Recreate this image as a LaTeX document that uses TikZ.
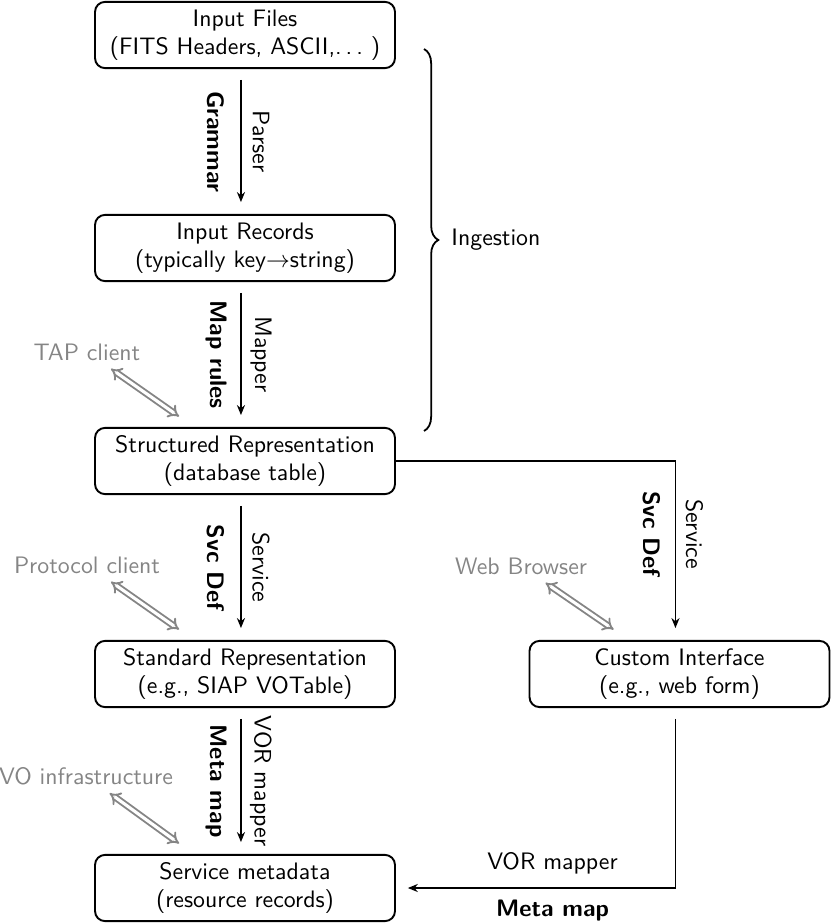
\documentclass[tikz,border=0pt]{standalone}
\usetikzlibrary{arrows.meta,decorations.pathreplacing,calc}
\newcommand{\spdots}{.\kern\fontdimen3\font.\kern\fontdimen3\font.\kern\fontdimen3\font}
\begin{document}
\begin{tikzpicture}[x=0.42pt,y=-0.42pt,
  font=\sffamily,
  box/.style={draw, line width=0.8pt, rounded corners=4.2pt, minimum width=126pt, minimum height=27.8pt, align=center, inner sep=2pt},
  tip/.style={-{Stealth[length=4.2pt,width=3.4pt]}},
  flow/.style={line width=0.6pt, tip, shorten <=4.5pt, shorten >=5pt},
  blab/.style={font=\sffamily\bfseries, rotate=-90, inner sep=0pt},
  rlab/.style={rotate=-90, inner sep=0pt},
  client/.style={text=black!48},
  dbl/.style={draw=black!48, double=white, double distance=1.3pt, line width=0.8pt, {Implies}-{Implies}}
]
\useasboundingbox (0,0) rectangle (831,923);

\node[box] (files) at (245,35) {Input Files\\(FITS Headers, ASCII,\spdots\,)};
\node[box] (records) at (245,248) {Input Records\\(typically key$\to$string)};
\node[box] (struct) at (245,461) {Structured Representation\\(database table)};
\node[box] (std) at (245,674) {Standard Representation\\(e.g., SIAP VOTable)};
\node[box] (meta) at (245,888) {Service metadata\\(resource records)};
\node[box] (custom) at (679.5,674) {Custom Interface\\(e.g., web form)};

% left chain
\draw[flow] ([xshift=-1.7pt]files.south) -- coordinate[midway] (m1) ([xshift=-1.7pt]records.north);
\draw[flow] ([xshift=-1.7pt]records.south) -- coordinate[midway] (m2) ([xshift=-1.7pt]struct.north);
\draw[flow] ([xshift=-1.7pt]struct.south) -- coordinate[midway] (m3) ([xshift=-1.7pt]std.north);
\draw[flow] ([xshift=-1.7pt]std.south) -- coordinate[midway] (m4) ([xshift=-1.7pt]meta.north);
\node[blab] (g1) at ([xshift=-10.4pt]m1) {Grammar};
\node[rlab] (p1) at ([xshift=8.4pt]m1) {Parser};
\node[blab] (g2) at ([xshift=-10.4pt]m2) {Map rules};
\node[rlab] (p2) at ([xshift=8.4pt]m2) {Mapper};
\node[blab] (g3) at ([xshift=-10.4pt]m3) {Svc Def};
\node[rlab] (p3) at ([xshift=8.4pt]m3) {Service};
\node[blab] (g4) at ([xshift=-10.4pt]m4) {Meta map};
\node[rlab] (p4) at ([xshift=8.4pt]m4) {VOR mapper};

% right branch
\coordinate (rc1) at ([xshift=-1.7pt]custom.north |- struct.east);
\draw[line width=0.6pt, tip, shorten >=5pt] (struct.east) -- (rc1) -- ([xshift=-1.7pt]custom.north);
\node[blab] (g5) at ($(rc1)+(-24,73)$) {Svc Def};
\node[rlab] (p5) at ($(rc1)+(19,73)$) {Service};
\coordinate (rc2) at ([xshift=-1.7pt]custom.south |- meta.east);
\draw[line width=0.6pt, tip, shorten >=5pt] ([xshift=-1.7pt,yshift=-4.5pt]custom.south) -- (rc2) -- (meta.east);
\node (vorlab) at ($(rc2)+(-123,-25)$) {VOR mapper};
\node[font=\sffamily\bfseries] (metalab) at ($(rc2)+(-123,23)$) {Meta map};

% brace
\coordinate (bt) at (424,49);
\coordinate (bb) at (424,431);
\draw[line width=0.75pt, decoration={brace, amplitude=6pt}, decorate] (bt) -- (bb);
\node[anchor=west] (ingest) at (443,240) {Ingestion};

% clients
\node[client] (tap) at (87,352) {TAP client};
\node[client] (proto) at (87,565) {Protocol client};
\node[client] (web) at (521,566) {Web Browser};
\node[client] (vo) at (86,776) {VO infrastructure};
\coordinate (tapend) at ([xshift=35.7pt,yshift=4.4pt]struct.north west);
\coordinate (protoend) at ([xshift=35.7pt,yshift=4.4pt]std.north west);
\coordinate (webend) at ([xshift=35.7pt,yshift=4.4pt]custom.north west);
\coordinate (voend) at ([xshift=35.7pt,yshift=4.4pt]meta.north west);
\draw[dbl] (tap) -- (tapend);
\draw[dbl] (proto) -- (protoend);
\draw[dbl] (web) -- (webend);
\draw[dbl] (vo) -- (voend);
\end{tikzpicture}
\end{document}
